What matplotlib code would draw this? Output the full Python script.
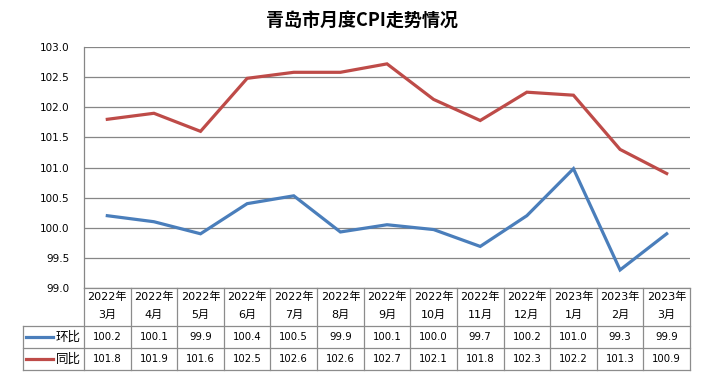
import numpy as np
import matplotlib
matplotlib.use("Agg")
import matplotlib.pyplot as plt
from matplotlib.lines import Line2D
from matplotlib.transforms import blended_transform_factory

plt.rcParams['font.family'] = ['Noto Sans CJK SC', 'DejaVu Sans']

# --- data ---
years = ['2022年'] * 10 + ['2023年'] * 3
months = ['3月', '4月', '5月', '6月', '7月', '8月', '9月', '10月', '11月', '12月', '1月', '2月', '3月']
mom = [100.2, 100.1, 99.9, 100.4, 100.53, 99.93, 100.05, 99.97, 99.69, 100.2, 100.98, 99.3, 99.9]   # 环比
yoy = [101.8, 101.9, 101.6, 102.48, 102.58, 102.58, 102.72, 102.13, 101.78, 102.25, 102.2, 101.3, 100.9]  # 同比
mom_labels = ['100.2', '100.1', '99.9', '100.4', '100.5', '99.9', '100.1', '100.0', '99.7', '100.2', '101.0', '99.3', '99.9']
yoy_labels = ['101.8', '101.9', '101.6', '102.5', '102.6', '102.6', '102.7', '102.1', '101.8', '102.3', '102.2', '101.3', '100.9']
series_names = ['环比', '同比']
colors = ['#4A7EBB', '#BE4B48']
yticks = np.arange(99.0, 103.01, 0.5)

# --- layout (pixels) ---
W, H = 724, 386
ax_l, ax_r, ax_t, ax_b = 84, 690, 47, 288
row1, row2, row3 = 326, 348, 370
leg_l = 23
grid_c = '#868686'
head_font = ['DejaVu Sans', 'Noto Sans CJK SC']

fig = plt.figure(figsize=(W / 100, H / 100), dpi=100)
ax = fig.add_axes([ax_l / W, 1 - ax_b / H, (ax_r - ax_l) / W, (ax_b - ax_t) / H])

x = np.arange(len(months))
ax.plot(x, mom, color=colors[0], lw=2.3, solid_joinstyle='miter')
ax.plot(x, yoy, color=colors[1], lw=2.3, solid_joinstyle='miter')

ax.set_xlim(-0.5, len(months) - 0.5)
ax.set_ylim(99.0, 103.0)
ax.set_yticks(yticks)
ax.set_yticklabels([f'{v:.1f}' for v in yticks], fontfamily='DejaVu Sans', fontsize=7.5)
ax.tick_params(axis='y', length=0, pad=10.5)
ax.set_xticks([])
ax.grid(axis='y', color=grid_c, lw=0.9)
ax.set_axisbelow(True)
for s in ['top', 'right', 'bottom']:
    ax.spines[s].set_visible(False)
ax.spines['left'].set_color(grid_c)
ax.spines['left'].set_linewidth(0.9)

fig.text(0.5, 1 - 20 / H, '青岛市月度CPI走势情况', ha='center', va='center',
         fontsize=13, fontweight='bold')

# --- data table ---
fy = lambda py: 1 - py / H
fx = lambda px: px / W
tr = blended_transform_factory(ax.transData, fig.transFigure)
tc = '#8C8C8C'

def hline(y, x0, x1):
    fig.add_artist(Line2D([fx(x0), fx(x1)], [fy(y), fy(y)], color=tc, lw=0.9))

def vline(xx, y0, y1, trans):
    fig.add_artist(Line2D([xx, xx], [fy(y0), fy(y1)], color=tc, lw=0.9, transform=trans))

hline(ax_b, ax_l, ax_r)
for yy in (row1, row2, row3):
    hline(yy, leg_l, ax_r)
for b in np.arange(len(months) + 1) - 0.5:
    vline(b, ax_b, row3, tr)
vline(fx(leg_l), row1, row3, fig.transFigure)

for i in range(len(months)):
    fig.text(i, fy(297), years[i], transform=tr, ha='center', va='center',
             fontsize=8, family=head_font)
    fig.text(i, fy(315), months[i], transform=tr, ha='center', va='center',
             fontsize=8, family=head_font)
    fig.text(i, fy(337.5), mom_labels[i], transform=tr, ha='center', va='center',
             fontsize=7.3, fontfamily='DejaVu Sans')
    fig.text(i, fy(359.5), yoy_labels[i], transform=tr, ha='center', va='center',
             fontsize=7.3, fontfamily='DejaVu Sans')

for name, c, yy in zip(series_names, colors, (337, 359)):
    fig.add_artist(Line2D([fx(26), fx(53)], [fy(yy), fy(yy)], color=c, lw=2.3))
    fig.text(fx(81), fy(yy), name, ha='right', va='center', fontsize=9)

fig.savefig('out.png', dpi=100)
